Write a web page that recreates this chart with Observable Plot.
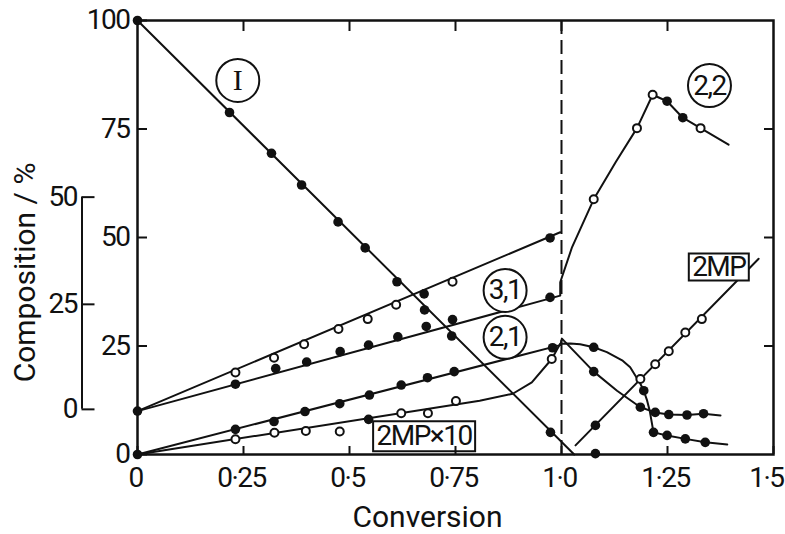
<!DOCTYPE html>
<html><head><meta charset="utf-8">
<script src="https://cdn.jsdelivr.net/npm/d3@7"></script>
<script src="https://cdn.jsdelivr.net/npm/@observablehq/plot@0.6"></script>
<style>
html,body{margin:0;padding:0;background:#fff;}
#chart svg{display:block;}
g[aria-label$="tick label"] text, .tl text{letter-spacing:-1.5px;}
.lbl text{letter-spacing:-1.5px;}
</style>
</head><body><div id="chart"></div>
<script>
// ---------- axis ticks & titles ----------
const xTicks = [0, 0.25, 0.5, 0.75, 1.0, 1.25, 1.5];
const xTickLabels = ["0", "0·25", "0·5", "0·75", "1·0", "1·25", "1·5"];
const yTicks = [0, 25, 50, 75, 100];
const yTickLabels = ["0", "25", "50", "75", "100"];
const secTickPos = [10.4, 34.6, 59.3];      // secondary (offset) axis, on main scale
const secTickLabels = ["0", "25", "50"];
const xTitle = "Conversion";
const yTitle = "Composition / %";
const dashX = [1.0];

// ---------- curves ----------
const curveI_x = [0, 1.03];
const curveI_y = [100, 0];
const curve31up_x = [0, 0.997];
const curve31up_y = [10, 51.2];
const curve31lo22_x = [0, 0.997, 0.997, 1.025, 1.076, 1.128, 1.178, 1.215, 1.249, 1.286, 1.328, 1.394];
const curve31lo22_y = [10, 36.6, 39.7, 47.8, 58.8, 67.4, 75.2, 82.9, 81.4, 77.6, 75.2, 71.4];
const curve21_x = [0, 0.997, 1.001, 1.076, 1.131, 1.186, 1.221, 1.253, 1.296, 1.335, 1.375];
const curve21_y = [0, 25.2, 26.7, 19.1, 14.7, 10.9, 9.7, 9.2, 9.1, 9.4, 9.0];
const curveMP10_x = [0, 0.807, 0.885, 0.93, 0.977, 0.997, 1.021, 1.044, 1.076, 1.107, 1.143, 1.162, 1.174, 1.186, 1.194, 1.202, 1.208, 1.217, 1.249, 1.292, 1.339, 1.391];
const curveMP10_y = [0, 12.4, 14.0, 16.6, 22.0, 25.5, 25.6, 25.4, 24.7, 23.6, 21.7, 20.1, 18.2, 16.3, 14.7, 12.4, 10.1, 5.1, 4.4, 3.6, 2.8, 2.3];
const curveMP_x = [1.033, 1.465];
const curveMP_y = [2.1, 45.1];

// ---------- measured points ----------
const filledX = [
  0, 0.217, 0.316, 0.387, 0.473, 0.537, 0.612, 0.677, 0.741, 0.974, 1.080,      // I
  0, 0.231, 0.326, 0.399, 0.478, 0.545, 0.614, 0.681, 0.743, 0.973,             // 3,1 lower
  0.676, 0.973,                                                                 // 3,1 upper
  1.249, 1.286,                                                                 // 2,2
  0, 0.231, 0.322, 0.395, 0.477, 0.547, 0.622, 0.684, 0.747, 0.979,             // 2,1
  1.076, 1.186, 1.221, 1.253, 1.296, 1.335,                                     // 2,1 after
  0.545, 1.076, 1.194, 1.217, 1.249, 1.292, 1.339,                              // 2MPx10
  1.080                                                                         // 2MP
];
const filledY = [
  100, 78.8, 69.4, 62.1, 53.6, 47.6, 39.8, 33.3, 27.3, 5.1, 0.2,
  10, 16.2, 19.8, 21.3, 23.7, 25.2, 27.1, 29.5, 31.1, 36.2,
  37.0, 49.9,
  81.4, 77.6,
  0, 5.8, 7.6, 9.9, 11.7, 13.7, 16.0, 17.7, 19.1, 24.6,
  19.1, 10.9, 9.7, 9.2, 9.1, 9.4,
  8.1, 24.7, 14.7, 5.1, 4.4, 3.6, 2.8,
  6.7
];
const openX = [
  0.231, 0.322, 0.393, 0.474, 0.543, 0.610, 0.743,                 // 3,1 upper
  1.076, 1.178, 1.215, 1.328,                                      // 2,2
  0.231, 0.323, 0.397, 0.477, 0.622, 0.685, 0.751, 0.977,          // 2MPx10
  1.186, 1.221, 1.253, 1.292, 1.331                                // 2MP
];
const openY = [
  18.9, 22.3, 25.4, 28.9, 31.2, 34.5, 39.8,
  58.8, 75.2, 82.9, 75.2,
  3.5, 5.0, 5.4, 5.3, 9.5, 9.5, 12.3, 22.0,
  17.4, 20.8, 23.8, 28.1, 31.2
];

// ---------- labels ----------
const circleLabels = ["2,2", "3,1", "2,1"];
const circleLabelX = [1.349, 0.867, 0.867];
const circleLabelY = [85.0, 37.8, 27.0];
const romanLabel = ["I"];
const romanLabelX = [0.2365];
const romanLabelY = [86.2];
const boxLabels = ["2MP", "2MP×10"];
const boxLabelX = [1.371, 0.676];
const boxLabelY = [43.2, 4.2];

function boxSymbol(w, h) {
  return {draw(ctx) { ctx.rect(-w / 2, -h / 2, w, h); }};
}

const curves = [
  [curveI_x, curveI_y], [curve31up_x, curve31up_y], [curve31lo22_x, curve31lo22_y],
  [curve21_x, curve21_y], [curveMP10_x, curveMP10_y], [curveMP_x, curveMP_y]
];

const nX = xTicks.length;
const ink = "#111";
const chart = Plot.plot({
  width: 785, height: 534,
  marginLeft: 137, marginRight: 12, marginTop: 20, marginBottom: 80,
  x: {domain: [0, 1.5], label: null},
  y: {domain: [0, 100], label: null},
  style: {fontFamily: "Roboto, 'Open Sans', sans-serif", fontSize: "28px", color: ink, background: "white"},
  marks: [
    Plot.ruleX(dashX, {stroke: ink, strokeWidth: 2, strokeDasharray: "14,6"}),
    ...curves.map(([cx, cy]) => Plot.line(cx, {x: cx, y: cy, stroke: ink, strokeWidth: 2})),
    Plot.dot(romanLabel, {x: romanLabelX, y: romanLabelY, r: 21.5, fill: "white", stroke: ink, strokeWidth: 2}),
    Plot.text(romanLabel, {x: romanLabelX, y: romanLabelY, text: d => d, fontFamily: "'Liberation Serif', serif", fontSize: 30, fill: ink}),
    Plot.dot(circleLabels, {x: circleLabelX, y: circleLabelY, r: 21.5, fill: "white", stroke: ink, strokeWidth: 2}),
    Plot.text(circleLabels, {x: circleLabelX, y: circleLabelY, text: d => d, fontSize: 28, fill: ink, className: "lbl"}),
    Plot.dot([boxLabels[0]], {x: [boxLabelX[0]], y: [boxLabelY[0]], symbol: boxSymbol(60, 27), fill: "white", stroke: ink, strokeWidth: 2}),
    Plot.dot([boxLabels[1]], {x: [boxLabelX[1]], y: [boxLabelY[1]], symbol: boxSymbol(102, 30), fill: "white", stroke: ink, strokeWidth: 2}),
    Plot.text(boxLabels, {x: boxLabelX, y: boxLabelY, text: d => d, fontSize: 28, fill: ink, className: "lbl"}),
    Plot.dot(filledX, {x: filledX, y: filledY, r: 4.8, fill: ink, stroke: null}),
    Plot.dot(openX, {x: openX, y: openY, r: 4, fill: "white", stroke: ink, strokeWidth: 2}),
    Plot.frame({stroke: ink, strokeWidth: 2.5}),
    Plot.axisY(yTicks, {anchor: "left", tickSize: -10, tickPadding: 18, strokeWidth: 2,
      tickFormat: d => yTickLabels[yTicks.indexOf(d)]}),
    Plot.axisY([25, 50, 75], {anchor: "right", tickSize: -10, strokeWidth: 2, tickFormat: () => ""}),
    Plot.axisX(xTicks, {anchor: "bottom", tickSize: -8, strokeWidth: 2, tickFormat: () => ""}),
    Plot.text(xTicks.slice(0, nX - 1), {x: xTicks.slice(0, nX - 1), text: xTickLabels.slice(0, nX - 1),
      frameAnchor: "bottom", textAnchor: "middle", lineAnchor: "top", dy: 13, dx: -2, fill: ink, className: "tl"}),
    Plot.text(xTicks.slice(nX - 1), {x: xTicks.slice(nX - 1), text: xTickLabels.slice(nX - 1),
      frameAnchor: "bottom", textAnchor: "end", lineAnchor: "top", dy: 13, dx: 10, fill: ink, className: "tl"}),
    Plot.axisX(xTicks.slice(1, -1), {anchor: "top", tickSize: -10, strokeWidth: 2, tickFormat: () => ""}),
    Plot.ruleX([0], {y1: secTickPos[0], y2: secTickPos[secTickPos.length - 1], dx: -55.5, stroke: ink, strokeWidth: 2}),
    Plot.axisY(secTickPos, {anchor: "left", dx: -55.5, tickSize: -13, tickPadding: 18, strokeWidth: 2,
      tickFormat: d => secTickLabels[secTickPos.indexOf(d)]}),
    Plot.text([xTitle], {frameAnchor: "bottom", textAnchor: "middle", lineAnchor: "middle", dx: -28, dy: 63, fontSize: 30, fill: ink}),
    Plot.text([yTitle], {frameAnchor: "left", textAnchor: "middle", lineAnchor: "middle", rotate: -90, dx: -112, dy: 35, fontSize: 30, fill: ink})
  ]
});
document.getElementById("chart").appendChild(chart);
</script>
</body></html>
